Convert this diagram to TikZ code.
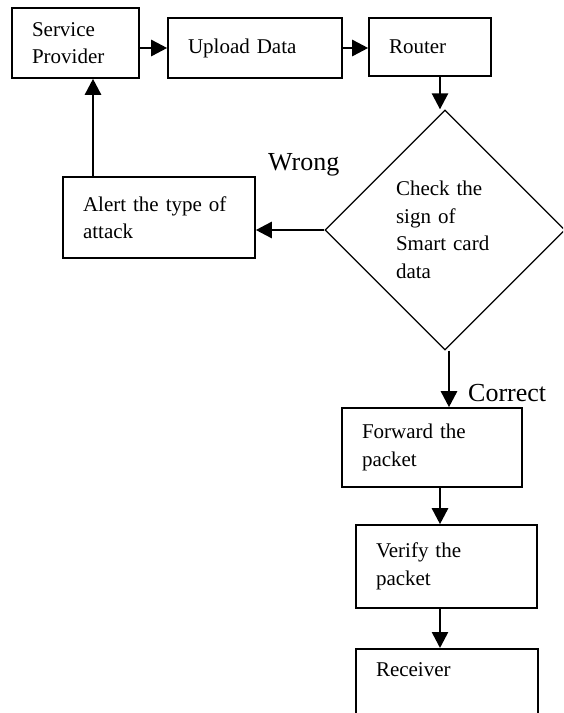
\documentclass[tikz,border=0pt]{standalone}
\usepackage{fontspec}
\setmainfont{Liberation Serif}
\usepackage{tikz}
\usetikzlibrary{positioning,shapes.geometric,arrows.meta}

\begin{document}
\begin{tikzpicture}[x=1pt,y=-1pt,
    stepbox/.style={rectangle,draw,line width=1.6pt,inner xsep=20pt,inner ysep=0pt,align=left,
        font=\fontsize{21}{27.5}\selectfont},
    check/.style={diamond,draw,line width=1.3pt,minimum width=240pt,minimum height=240pt,
        inner sep=0pt,text width=98pt,align=left,font=\fontsize{21}{27.5}\selectfont},
    lbl/.style={font=\fontsize{26}{30}\selectfont,inner sep=0pt,anchor=base west},
    arr/.style={-{Triangle[length=16pt,width=16pt]},line width=2.6pt}]

    \clip (0,0) rectangle (563,713);

    % top row
    \node[stepbox,text width=87pt,minimum height=70pt] (provider) at (75.5,43) {Service\\Provider};
    \node[stepbox,text width=134pt,minimum height=60pt] (upload) at (255,48) {Upload Data\\[2pt]};
    \node[stepbox,text width=82pt,minimum height=58pt] (router) at (430,47) {Router\\[2pt]};

    % decision
    \node[check] (sign) at (445,230) {Check the\\sign of\\Smart card\\data};
    \node[stepbox,text width=152pt,minimum height=81pt] (alert) at (159,217.5) {Alert the type of\\attack};

    % lower column
    \node[stepbox,text width=140pt,minimum height=79pt] (forward) at (432,447.5) {Forward the\\packet};
    \node[stepbox,text width=141pt,minimum height=83pt] (verify) at (446.5,566.5) {Verify the\\packet};
    \node[stepbox,text width=142pt,anchor=north,inner ysep=14pt,text depth=80pt] (receiver) at (447,648) {Receiver};

    % arrows
    \draw[arr] (provider.east |- upload.west) -- (upload.west);
    \draw[arr] (upload.east) -- (upload.east -| router.west);
    \draw[arr] ([xshift=10pt]router.south) -- ([xshift=10pt]router.south |- sign.north);
    \draw[arr] (sign.west) -- (sign.west -| alert.east);
    \draw[arr] ([xshift=17.5pt]provider.south |- alert.north) -- ([xshift=17.5pt]provider.south);
    \draw[arr] ([xshift=4pt]sign.south) -- ([xshift=4pt]sign.south |- forward.north);
    \draw[arr] ([xshift=8pt]forward.south) -- ([xshift=8pt]forward.south |- verify.north);
    \draw[arr] ([xshift=-6.5pt]verify.south) -- ([xshift=-6.5pt]verify.south |- receiver.north);

    % labels
    \node[lbl] (wrong) at (268,170) {Wrong};
    \node[lbl] (correct) at (468,401) {Correct};

\end{tikzpicture}
\end{document}
